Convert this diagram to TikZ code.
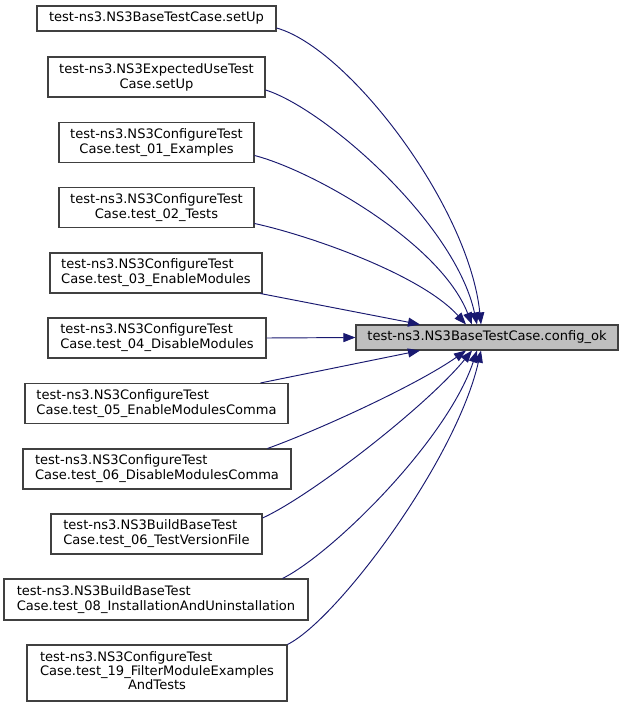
\documentclass[tikz,border=0pt]{standalone}
\usepackage{fontspec}
\setmainfont{DejaVu Sans}
\usetikzlibrary{arrows.meta}
\definecolor{edgeblue}{HTML}{191970}
\definecolor{boxgray}{HTML}{BFBFBF}
\definecolor{boxline}{HTML}{404040}
\begin{document}
\begin{tikzpicture}[x=1pt,y=-1pt,
  fn/.style={draw=boxline, line width=1.1pt, fill=white, inner sep=0pt,
    font=\fontsize{13.05}{15}\selectfont},
  cn/.style={fn, align=center},
  ln/.style={fn, align=left},
  tg/.style={fn, fill=boxgray},
  edge/.style={draw=edgeblue, line width=0.95pt, -{Triangle[length=12pt,width=9pt]}, edgeblue}]
\useasboundingbox (0,0) rectangle (623,707);
\node[cn, minimum width=239pt, minimum height=25pt] (s1) at (156.5,18.5) {test-ns3.NS3BaseTestCase.setUp};
\node[cn, minimum width=217pt, minimum height=40pt] (s2) at (156.5,77) {test-ns3.NS3ExpectedUseTest\\Case.setUp};
\node[cn, minimum width=195pt, minimum height=40pt] (s3) at (156.5,142.5) {test-ns3.NS3ConfigureTest\\Case.test\_01\_Examples};
\node[cn, minimum width=195pt, minimum height=40pt] (s4) at (156.5,207.5) {test-ns3.NS3ConfigureTest\\Case.test\_02\_Tests};
\node[ln, minimum width=212pt, minimum height=40pt] (s5) at (156,273) {test-ns3.NS3ConfigureTest\\Case.test\_03\_EnableModules};
\node[ln, minimum width=218pt, minimum height=40pt] (s6) at (157,338) {test-ns3.NS3ConfigureTest\\Case.test\_04\_DisableModules};
\node[ln, minimum width=263pt, minimum height=40pt] (s7) at (156.5,403.5) {test-ns3.NS3ConfigureTest\\Case.test\_05\_EnableModulesComma};
\node[ln, minimum width=268pt, minimum height=40pt] (s8) at (157,469) {test-ns3.NS3ConfigureTest\\Case.test\_06\_DisableModulesComma};
\node[ln, minimum width=211pt, minimum height=40pt] (s9) at (156.5,534) {test-ns3.NS3BuildBaseTest\\Case.test\_06\_TestVersionFile};
\node[ln, minimum width=304pt, minimum height=41pt] (s10) at (156,599.5) {test-ns3.NS3BuildBaseTest\\Case.test\_08\_InstallationAndUninstallation};
\node[fn, minimum width=260pt, minimum height=56pt] (s11) at (157,673) {\renewcommand\arraystretch{0.93}\begin{tabular}{@{}l@{}}test-ns3.NS3ConfigureTest\\Case.test\_19\_FilterModuleExamples\\\multicolumn{1}{@{}c@{}}{AndTests}\end{tabular}};
\node[tg, minimum width=262pt, minimum height=25pt] (t) at (487,337.5) {test-ns3.NS3BaseTestCase.config\_ok};
\draw[edge] ([yshift=-9.5pt]s1.east) .. controls +(72,20) and +(-12,-118) .. ([xshift=-6pt]t.north);
\draw[edge] ([yshift=-13pt]s2.east) .. controls +(58,18) and +(-22,-102) .. ([xshift=-10pt]t.north);
\draw[edge] ([yshift=-13pt]s3.east) .. controls +(58,15) and +(-32,-82) .. ([xshift=-15pt]t.north);
\draw[edge] ([yshift=-16pt]s4.east) .. controls +(55,12) and +(-45,-50) .. ([xshift=-21pt]t.north);
\draw[edge] ([xshift=-2pt]s5.south east) -- ([xshift=-67pt]t.north);
\draw[edge] (s6.east) -- (t.west);
\draw[edge] ([xshift=-28pt]s7.north east) -- ([xshift=-67pt]t.south);
\draw[edge] ([xshift=-24pt]s8.north east) .. controls +(50,-18) and +(-50,35) .. ([xshift=-21pt]t.south);
\draw[edge] ([yshift=16pt]s9.east) .. controls +(50,-23) and +(-45,55) .. ([xshift=-15pt]t.south);
\draw[edge] ([xshift=-26pt]s10.north east) .. controls +(50,-25) and +(-30,90) .. ([xshift=-10pt]t.south);
\draw[edge] (s11.north east) .. controls +(50,-25) and +(-25,110) .. ([xshift=-6pt]t.south);
\end{tikzpicture}
\end{document}
